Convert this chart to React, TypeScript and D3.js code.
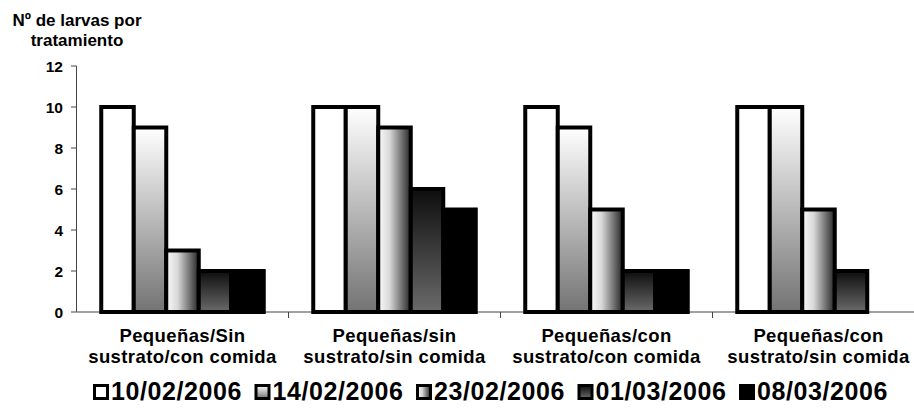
import React from "react";
import * as d3 from "d3";

const categories = [
  ["Pequeñas/Sin", "sustrato/con comida"],
  ["Pequeñas/sin", "sustrato/sin comida"],
  ["Pequeñas/con", "sustrato/con comida"],
  ["Pequeñas/con", "sustrato/sin comida"],
];
const seriesNames = ["10/02/2006", "14/02/2006", "23/02/2006", "01/03/2006", "08/03/2006"];
const s1 = [10, 10, 10, 10];
const s2 = [9, 10, 9, 10];
const s3 = [3, 9, 5, 5];
const s4 = [2, 6, 2, 2];
const s5 = [2, 5, 2, 0];
const seriesValues = [s1, s2, s3, s4, s5];
const yTicks = [0, 2, 4, 6, 8, 10, 12];

const W = 914;
const H = 410;
const FONT = "Arial, 'Liberation Sans', sans-serif";
const fills = ["#ffffff", "url(#g2)", "url(#g3)", "url(#g4)", "#000000"];

export default function App() {
  const x0 = d3.scaleBand<number>().domain(d3.range(categories.length)).range([76.5, 924.5]).padding(0);
  const barW = 32.5;
  const x1 = d3
    .scaleBand<number>()
    .domain(d3.range(seriesNames.length))
    .range([0, barW * seriesNames.length]);
  const groupOffset = (x0.bandwidth() - barW * seriesNames.length) / 2;
  const y = d3.scaleLinear().domain([0, 12]).range([312, 66]);

  const legendStep = 161.5;
  const legendX0 = 93;

  return (
    <svg width={W} height={H} style={{ position: "absolute", left: 0, top: 0, background: "#fff" }}>
      <defs>
        <linearGradient id="g2" x1="0" y1="0" x2="0" y2="1">
          <stop offset="0" stopColor="#ffffff" />
          <stop offset="1" stopColor="#737373" />
        </linearGradient>
        <linearGradient id="g3" x1="0" y1="0" x2="1" y2="0">
          <stop offset="0" stopColor="#fbfbfb" />
          <stop offset="0.35" stopColor="#d8d8d8" />
          <stop offset="1" stopColor="#262626" />
        </linearGradient>
        <linearGradient id="g4" x1="0" y1="0" x2="0" y2="1">
          <stop offset="0" stopColor="#0d0d0d" />
          <stop offset="1" stopColor="#6a6a6a" />
        </linearGradient>
      </defs>

      {/* axis title */}
      <text x={77} y={26} textAnchor="middle" fontFamily={FONT} fontWeight="bold" fontSize={17}>
        Nº de larvas por
      </text>
      <text x={77} y={46} textAnchor="middle" fontFamily={FONT} fontWeight="bold" fontSize={17}>
        tratamiento
      </text>

      {/* y axis */}
      <line x1={76.5} x2={76.5} y1={y(12)} y2={y(0)} stroke="#444" strokeWidth={1} />
      {yTicks.map((t) => (
        <g key={t}>
          <line x1={71} x2={76.5} y1={y(t)} y2={y(t)} stroke="#444" strokeWidth={1} />
          <text
            x={63}
            y={y(t)}
            dy="0.36em"
            textAnchor="end"
            fontFamily={FONT}
            fontWeight="bold"
            fontSize={15.5}
          >
            {t}
          </text>
        </g>
      ))}

      {/* x axis */}
      <line x1={76.5} x2={W} y1={y(0)} y2={y(0)} stroke="#808080" strokeWidth={1.5} />
      {categories.map((_, i) =>
        i > 0 ? (
          <line
            key={i}
            x1={x0(i)!}
            x2={x0(i)!}
            y1={y(0)}
            y2={y(0) + 6}
            stroke="#444"
            strokeWidth={1}
          />
        ) : null
      )}

      {/* bars */}
      {seriesValues.map((vals, si) => (
        <g key={si}>
          {vals.map((v, ci) =>
            v > 0 ? (
              <rect
                key={ci}
                x={x0(ci)! + groupOffset + x1(si)!}
                y={y(v)}
                width={x1.bandwidth()}
                height={y(0) - y(v)}
                fill={fills[si]}
                stroke="#000"
                strokeWidth={4}
              />
            ) : null
          )}
        </g>
      ))}

      {/* category labels */}
      {categories.map((lines, i) => {
        const cx = x0(i)! + x0.bandwidth() / 2;
        return (
          <text
            key={i}
            textAnchor="middle"
            fontFamily={FONT}
            fontWeight="bold"
            fontSize={18.5}
            letterSpacing={0.4}
          >
            <tspan x={cx} y={342}>
              {lines[0]}
            </tspan>
            <tspan x={cx} y={363}>
              {lines[1]}
            </tspan>
          </text>
        );
      })}

      {/* legend */}
      {seriesNames.map((name, i) => {
        const lx = legendX0 + i * legendStep;
        return (
          <g key={name}>
            <rect
              x={lx + 1.5}
              y={385.5}
              width={13}
              height={13}
              fill={fills[i]}
              stroke="#000"
              strokeWidth={3}
            />
            <text
              x={lx + 18}
              y={400}
              fontFamily={FONT}
              fontWeight="bold"
              fontSize={25}
              letterSpacing={0.6}
            >
              {name}
            </text>
          </g>
        );
      })}
    </svg>
  );
}
